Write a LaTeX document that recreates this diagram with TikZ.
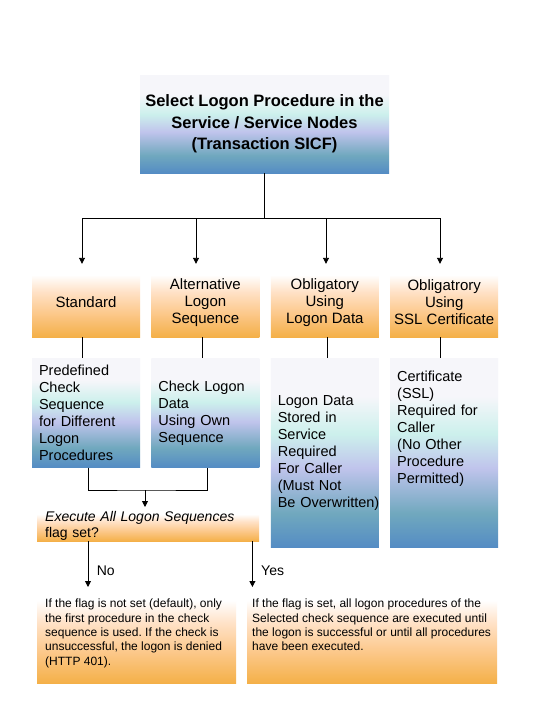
\documentclass[tikz,border=0pt]{standalone}
\usepackage{fontspec}
\setmainfont{Liberation Sans}
\usetikzlibrary{arrows.meta, positioning, calc}

\definecolor{orbot}{RGB}{244,176,72}
\definecolor{ormid}{RGB}{252,200,138}
\definecolor{orlight}{RGB}{255,226,200}
\definecolor{blbot}{RGB}{84,140,196}
\definecolor{blteal}{RGB}{112,168,190}
\definecolor{bllav}{RGB}{192,196,236}
\definecolor{blcyan}{RGB}{204,240,236}
\definecolor{blwhite}{RGB}{246,246,250}

\pgfdeclareverticalshading{orfade}{100bp}{color(0bp)=(orbot); color(25bp)=(orbot); color(42bp)=(ormid); color(58bp)=(orlight); color(70bp)=(white); color(100bp)=(white)}
\pgfdeclareverticalshading{blfade}{100bp}{color(0bp)=(blbot); color(25bp)=(blbot); color(34bp)=(blteal); color(46bp)=(bllav); color(55bp)=(blcyan); color(65bp)=(blwhite); color(100bp)=(blwhite)}

\frenchspacing
\begin{document}
\begin{tikzpicture}[
    x=1pt, y=-1pt,
    head/.style={shading=blfade, minimum width=249pt, minimum height=98pt, align=center, font=\bfseries\fontsize{16.5}{21.5}\selectfont},
    kind/.style={shading=orfade, minimum width=108pt, minimum height=69pt, inner sep=0pt, align=center, font=\fontsize{15}{17}\selectfont},
    detail/.style={shading=blfade, minimum width=108pt, text width=94pt, inner xsep=7pt, inner ysep=0pt, align=left, font=\fontsize{14.5}{17}\selectfont},
    flagbox/.style={shading=orfade, minimum height=30pt, text width=206pt, inner xsep=8pt, inner ysep=0pt, align=left, font=\fontsize{14}{16}\selectfont},
    note/.style={shading=orfade, inner xsep=8pt, inner ysep=8pt, font=\fontsize{12}{14.3}\selectfont},
    line/.style={line width=0.9pt},
    arrow/.style={line, -{Triangle[length=6pt, width=6pt]}, shorten >=4pt}
]
    \path[fill=white] (0,0) rectangle (540,720);
    \useasboundingbox (0,0) rectangle (540,720);

    \node[head] (title) at (264.5,124) {Select Logon Procedure in the\\Service / Service Nodes\\(Transaction SICF)};

    \node[kind] (std) at (86,302.5) {Standard};
    \node[kind, right=11pt of std] (alt) {Alternative\\Logon\\Sequence};
    \node[kind, right=11pt of alt] (obl) {Obligatory\\Using\\Logon Data};
    \node[kind, right=11pt of obl] (ssl) {Obligatrory\\Using\\SSL Certificate};

    \node[detail, minimum height=109pt, below=21pt of std] (pre) {Predefined\\Check\\Sequence\\for Different\\Logon\\Procedures};
    \node[detail, minimum height=109pt, below=21pt of alt] (chk) {Check Logon\\Data\\Using Own\\Sequence};
    \node[detail, minimum height=189pt, below=21pt of obl] (ldata) {Logon Data\\Stored in\\Service\\Required\\For Caller\\(Must Not\\\mbox{Be Overwritten)}};
    \node[detail, below=21pt of ssl] (cert) {\parbox[c][189pt][t]{94pt}{\raggedright\vspace*{13pt}Certificate\\(SSL)\\Required for\\Caller\\(No Other\\Procedure\\Permitted)}};

    \node[flagbox, anchor=north west] (flag) at (37,511) {\textit{Execute All Logon Sequences}\\flag set?};

    \node[note, anchor=north west] (nobox) at (37,591) {\parbox[c][76pt][t]{183pt}{\raggedright If the flag is not set (default), only\\the first procedure in the check\\sequence is used. If the check is\\unsuccessful, the logon is denied\\(HTTP 401).}};
    \node[note, anchor=north west, inner xsep=5pt] (yesbox) at (247,591) {\parbox[c][76pt][t]{240pt}{\raggedright If the flag is set, all logon procedures of the\\Selected check sequence are executed until\\the logon is successful or until all procedures\\have been executed.}};

    \coordinate (fork) at (264.5,218);
    \coordinate (s1) at (82,218);
    \coordinate (s2) at (196,218);
    \coordinate (s3) at (326,218);
    \coordinate (s4) at (440,218);
    \draw[line] (title.south) -- (fork);
    \draw[line] (s1) -- (s4);
    \foreach \s/\n in {s1/std, s2/alt, s3/obl, s4/ssl}
        \draw[arrow] (\s) -- (\s |- \n.north);

    \draw[line] (s1 |- std.south) -- (s1 |- pre.north);
    \draw[line] ([xshift=-3pt]alt.south) -- ([xshift=-3pt]chk.north);
    \draw[line] ([xshift=3pt]obl.south) -- ([xshift=3pt]ldata.north);
    \draw[line] (s4 |- ssl.south) -- (s4 |- cert.north);

    \coordinate (merge) at (145,490);
    \draw[line] ([xshift=2pt]pre.south) |- (merge) -| ([xshift=2pt]chk.south);
    \draw[arrow] (merge) -- (merge |- flag.north);

    \coordinate (nofork) at ([xshift=51pt]flag.south west);
    \coordinate (yesfork) at ([xshift=-7pt]flag.south east);
    \draw[arrow] (nofork) -- node[pos=0.6, right=5pt, font=\fontsize{14}{17}\selectfont] {No} (nofork |- nobox.north);
    \draw[arrow] (yesfork) -- node[pos=0.6, right=5pt, font=\fontsize{14}{17}\selectfont] {Yes} (yesfork |- yesbox.north);
\end{tikzpicture}
\end{document}
